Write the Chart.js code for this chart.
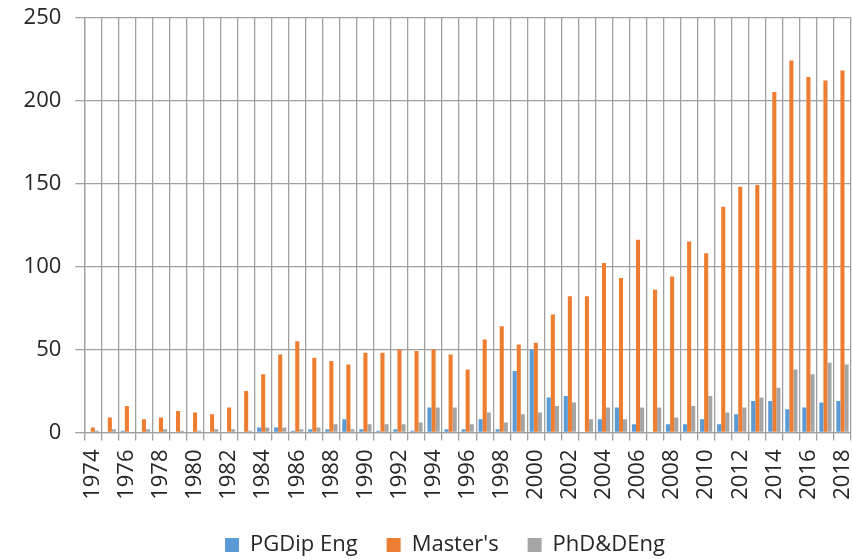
<!DOCTYPE html>
<html>
<head>
<meta charset="utf-8">
<script src="https://cdn.jsdelivr.net/npm/chart.js@4.4.1/dist/chart.umd.min.js"></script>
<style>
  html, body { margin: 0; padding: 0; background: #fff; }
  #wrap { width: 852px; height: 559px; }
</style>
</head>
<body>
<div id="wrap"><canvas id="myChart" width="852" height="559"></canvas></div>
<script>
let years = [];
for (let y = 1974; y <= 2018; y++) years.push(String(y));

let pgdip = [0,0,1,0,0,0,0,0,0,0, 3,3,1,2,2,8,2,1,2,1, 15,2,2,8,2,37,50,21,22,0, 8,15,5,0,5,5,8,5,11,19, 19,14,15,18,19];
let masters = [3,9,16,8,9,13,12,11,15,25, 35,47,55,45,43,41,48,48,50,49, 50,47,38,56,64,53,54,71,82,82, 102,93,116,86,94,115,108,136,148,149, 205,224,214,212,218];
let phd = [1,2,0,2,2,1,1,2,2,1, 3,3,2,3,5,2,5,5,5,6, 15,15,5,12,6,11,12,16,18,8, 15,8,15,15,9,16,22,12,15,21, 27,38,35,42,41];

let yTicks = [0, 50, 100, 150, 200, 250];
let seriesNames = ['PGDip Eng', "Master's", 'PhD&DEng'];
let colorHex = ['#5B9BD5', '#ED7D31', '#A5A5A5'];

let gridColor = '#a0a0a0';
let fontFamily = '"Open Sans", "Noto Sans", sans-serif';

// nudge the legend a bit to the right, like the original
let legendShift = {
  id: 'legendShift',
  afterLayout(chart) {
    let l = chart.legend;
    if (l) { l.left += 19.5; l.right += 19.5; }
  }
};

let ctx = document.getElementById('myChart').getContext('2d');

let myChart = new Chart(ctx, {
  type: 'bar',
  data: {
    labels: years,
    datasets: [
      { label: seriesNames[0], data: pgdip, backgroundColor: colorHex[0] },
      { label: seriesNames[1], data: masters, backgroundColor: colorHex[1] },
      { label: seriesNames[2], data: phd, backgroundColor: colorHex[2] }
    ]
  },
  plugins: [legendShift],
  options: {
    responsive: false,
    animation: false,
    layout: {
      padding: { left: 0, right: 1, top: 17.3, bottom: -7 }
    },
    datasets: {
      bar: {
        categoryPercentage: 0.72,
        barPercentage: 1.0,
        borderWidth: 0
      }
    },
    scales: {
      x: {
        offset: true,
        grid: {
          display: true,
          offset: true,
          color: gridColor,
          lineWidth: 1.3,
          drawTicks: true,
          tickLength: 8
        },
        border: { color: gridColor, width: 1.3 },
        ticks: {
          autoSkip: false,
          minRotation: 90,
          maxRotation: 90,
          padding: 9,
          color: '#262626',
          font: { family: fontFamily, size: 22 },
          callback: function (val, index) {
            return index % 2 === 0 ? this.getLabelForValue(val) : '';
          }
        },
        afterFit: function (scale) {
          scale.height = 72.5;
          scale.paddingLeft = 0;
          scale.paddingRight = 0;
          scale.paddingTop = 0;
          scale.paddingBottom = 0;
        }
      },
      y: {
        min: 0,
        max: 250,
        afterBuildTicks: function (scale) {
          scale.ticks = yTicks.map(v => ({ value: v }));
        },
        grid: {
          color: gridColor,
          lineWidth: 1.3,
          drawTicks: true,
          tickLength: 9
        },
        border: { color: gridColor, width: 1.3 },
        ticks: {
          padding: 14,
          color: '#262626',
          font: { family: fontFamily, size: 22 }
        },
        afterFit: function (scale) {
          scale.width = 84.3;
          scale.paddingTop = 0;
          scale.paddingBottom = 0;
        }
      }
    },
    plugins: {
      legend: {
        position: 'bottom',
        labels: {
          boxWidth: 14,
          boxHeight: 14,
          padding: 29,
          color: '#262626',
          font: { family: fontFamily, size: 22 }
        }
      },
      tooltip: { enabled: false }
    }
  }
});
</script>
</body>
</html>
